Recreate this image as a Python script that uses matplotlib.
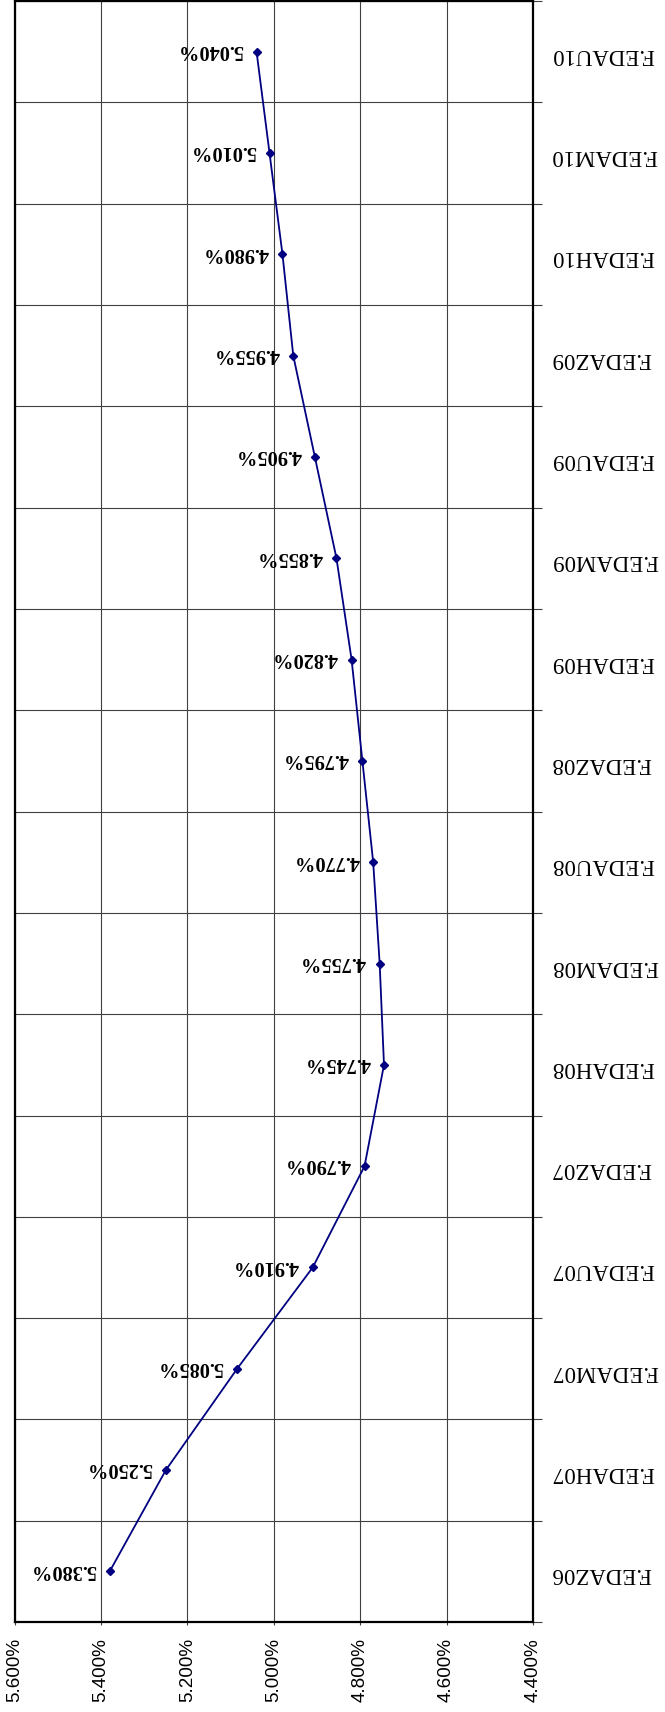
import matplotlib
matplotlib.use("Agg")
import matplotlib.pyplot as plt
import numpy as np
from matplotlib.ticker import FixedLocator, FuncFormatter

categories = ["F.EDAZ06", "F.EDAH07", "F.EDAM07", "F.EDAU07", "F.EDAZ07",
              "F.EDAH08", "F.EDAM08", "F.EDAU08", "F.EDAZ08", "F.EDAH09",
              "F.EDAM09", "F.EDAU09", "F.EDAZ09", "F.EDAH10", "F.EDAM10",
              "F.EDAU10"]
values = [5.380, 5.250, 5.085, 4.910, 4.790, 4.745, 4.755, 4.770, 4.795,
          4.820, 4.855, 4.905, 4.955, 4.980, 5.010, 5.040]
x_ticks = [5.6, 5.4, 5.2, 5.0, 4.8, 4.6, 4.4]

W, H = 665, 1712
fig = plt.figure(figsize=(W / 100, H / 100), dpi=100)
left, right = 14.7 / W, 533.0 / W
bottom = (H - 1622) / H
top = 1 - 1.2 / H
ax = fig.add_axes([left, bottom, right - left, top - bottom])

pos = np.arange(len(categories))
ax.plot(values, pos, color="#000080", lw=1.3, marker="D", ms=4.5,
        markerfacecolor="#000080", markeredgecolor="#000080", zorder=5,
        clip_on=False)

ax.set_xlim(5.6, 4.4)
ax.set_ylim(-0.5, len(categories) - 0.5)

# x axis
ax.xaxis.set_major_locator(FixedLocator(x_ticks))
ax.xaxis.set_major_formatter(FuncFormatter(lambda v, p: f"{v:.3f}%"))
ax.tick_params(axis="x", which="major", direction="out", length=2.5,
               width=0.8, color="#404040", pad=9,
               labelsize=13.6, labelrotation=90)
for lab in ax.get_xticklabels():
    lab.set_fontfamily("Liberation Sans")
ax.grid(True, axis="x", which="major", color="#404040", lw=0.8)

# y axis (categories on right)
ax.yaxis.tick_right()
ax.set_yticks(pos)
ax.set_yticklabels(categories, rotation=180, fontfamily="Liberation Serif",
                   fontsize=16.5)
ax.tick_params(axis="y", which="major", length=0, pad=13)
ax.yaxis.set_minor_locator(FixedLocator(np.arange(-0.5, len(categories), 1.0)))
ax.tick_params(axis="y", which="minor", direction="out", length=6.5,
               width=0.8, color="#404040", right=True, left=False)
ax.grid(True, axis="y", which="minor", color="#404040", lw=0.8)

for s in ax.spines.values():
    s.set_linewidth(1.6)
    s.set_color("black")
    s.set_zorder(6)

for v, p in zip(values, pos):
    ax.annotate(f"{v:.3f}%", xy=(v, p), xytext=(-9.8, 1.2),
                textcoords="offset points", rotation=180,
                ha="right", va="center", fontsize=14.6, fontweight="bold",
                fontfamily="Liberation Serif", color="black", zorder=7)

fig.savefig("out.png", dpi=100)
